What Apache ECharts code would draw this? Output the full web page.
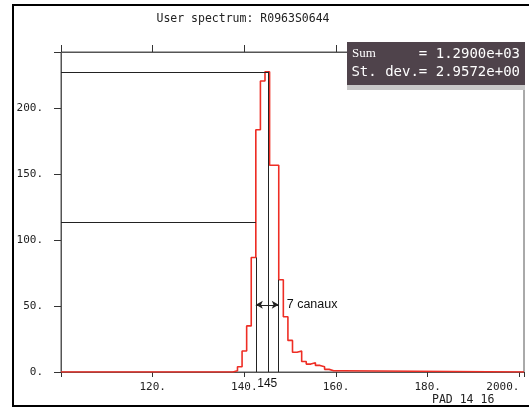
<!DOCTYPE html>
<html>
<head>
<meta charset="utf-8">
<script src="https://cdn.jsdelivr.net/npm/echarts@6/dist/echarts.min.js"></script>
<style>
html,body{margin:0;padding:0;background:#fff;}
#chart{width:529px;height:408px;}
</style>
</head>
<body>
<div id="chart"></div>
<script>
// ---- data ----
const titleText = 'User spectrum: R0963S0644';
const binCenters = [138,139,140,141,142,143,144,145,146,147,148,149,150,151,152,153,154,155,156,157,158,159,160,161];
const counts     = [1,  4,  16, 35, 87, 184,221,228,157,157,70, 42, 24, 15, 16, 8,  6,  7,  5,  4,  2,  1,  1,  1];
const xMin = 100, xMax = 201, xStep = 20;
const yMin = 0, yMax = 243, yStep = 50;
const statNames  = ['Sum', 'St. dev.'];
const statValues = ['1.2900e+03', '2.9572e+00'];
const padText = 'PAD 14 16';
// annotation values
const peakLevel = 228;
const halfLevel = 114;
const fwhmLeft = 142.5, fwhmRight = 147.5;
const peakPos = 145.3;
const arrowLevel = 51;
const annotLabel = '7 canaux';
const peakLabel = '145';

// step-histogram points: left edge of each bin
const histData = [[xMin, 0]];
binCenters.forEach((c, i) => histData.push([c - 0.5, counts[i]]));
histData.push([binCenters[binCenters.length - 1] + 0.5, 0]);
histData.push([xMax, 0]);

const countAt = v => counts[binCenters.indexOf(v)];

const mono = 'DejaVu Sans Mono';
const axisCol = '#555';

const chart = echarts.init(document.getElementById('chart'), null, {renderer: 'canvas'});
chart.setOption({
  animation: false,
  backgroundColor: '#fff',
  title: {
    text: titleText, left: 238, top: 8, textAlign: 'center',
    textStyle: {fontFamily: mono, fontSize: 11.5, fontWeight: 'normal', color: '#222'}
  },
  grid: {left: 61, right: 5, top: 52, bottom: 36, show: true, borderColor: axisCol, borderWidth: 1,
         containLabel: false, outerBoundsMode: 'none'},
  xAxis: [{
    type: 'value', min: xMin, max: xMax, interval: xStep, position: 'bottom',
    axisLine: {show: true, lineStyle: {color: axisCol, width: 1}},
    axisTick: {show: true, length: 5, inside: false, lineStyle: {color: '#333'}},
    splitLine: {show: false},
    axisLabel: {
      margin: 10, fontFamily: mono, fontSize: 11, color: '#222', hideOverlap: false,
      formatter: v => (v === xMin || v === xMax) ? '' : (v === 200 ? '2000.     ' : v + '.')
    }
  }, {
    type: 'value', min: xMin, max: xMax, interval: xStep, position: 'top',
    axisLine: {show: true, lineStyle: {color: axisCol, width: 1}},
    axisTick: {show: true, length: 7, inside: false, lineStyle: {color: '#333'}},
    splitLine: {show: false}, axisLabel: {show: false}
  }],
  yAxis: [{
    type: 'value', min: yMin, max: yMax, interval: yStep,
    axisLine: {show: true, lineStyle: {color: axisCol, width: 1}},
    axisTick: {show: true, length: 7, inside: false, lineStyle: {color: '#333'}},
    splitLine: {show: false},
    axisLabel: {
      margin: 18, fontFamily: mono, fontSize: 11, color: '#222',
      verticalAlign: 'middle', padding: [0, 0, 9, 0],
      formatter: v => v === yMax ? '' : v + '.'
    }
  }],
  series: [{
    type: 'line', step: 'end', data: histData, symbol: 'none', z: 3,
    lineStyle: {color: '#ee2d24', width: 1.6},
    markLine: {
      silent: true, symbol: 'none', label: {show: false},
      lineStyle: {color: '#222', width: 1, type: 'solid'},
      data: [
        [{coord: [xMin, peakLevel]}, {coord: [peakPos, peakLevel]}],
        [{coord: [xMin, halfLevel]}, {coord: [fwhmLeft, halfLevel]}],
        [{coord: [fwhmLeft, 0]}, {coord: [fwhmLeft, countAt(142)]}],
        [{coord: [peakPos, 0]}, {coord: [peakPos, peakLevel]}],
        [{coord: [fwhmRight, 0]}, {coord: [fwhmRight, countAt(148)]}]
      ]
    },
    markPoint: {
      silent: true, symbol: 'circle', symbolSize: 0,
      data: [
        {coord: [fwhmRight, arrowLevel], label: {show: true, formatter: annotLabel, position: 'right', distance: 8,
          fontFamily: 'Liberation Sans', fontSize: 12.5, color: '#111'}},
        {coord: [145, 0], label: {show: true, formatter: peakLabel, position: 'bottom', distance: 6,
          fontFamily: 'Liberation Sans', fontSize: 12, color: '#111'}}
      ]
    }
  }, {
    type: 'line', data: [], symbol: 'none',
    markLine: {
      silent: true, symbol: ['arrow', 'arrow'], symbolSize: [6, 7], label: {show: false},
      lineStyle: {color: '#222', width: 1, type: 'solid'},
      data: [[{coord: [fwhmLeft, arrowLevel]}, {coord: [fwhmRight, arrowLevel]}]]
    }
  }],
  graphic: [
    {type: 'rect', shape: {x: 13, y: 5, width: 540, height: 401}, style: {fill: 'none', stroke: '#000', lineWidth: 2}, z: 100},
    {type: 'rect', shape: {x: 347, y: 44, width: 178, height: 46}, style: {fill: '#c8c8c8'}, z: 50},
    {type: 'rect', shape: {x: 347, y: 42, width: 178, height: 43}, style: {fill: '#4f434b'}, z: 51},
    {type: 'text', x: 352, y: 54, style: {text: statNames[0], font: '13px "Liberation Sans Narrow", "Liberation Serif", serif', fill: '#fff', textVerticalAlign: 'middle'}, z: 52},
    {type: 'text', x: 520, y: 54, style: {text: '= ' + statValues[0], font: '14px "' + mono + '"', fill: '#fff', textAlign: 'right', textVerticalAlign: 'middle'}, z: 52},
    {type: 'text', x: 520, y: 72, style: {text: statNames[1] + '= ' + statValues[1], font: '14px "' + mono + '"', fill: '#fff', textAlign: 'right', textVerticalAlign: 'middle'}, z: 52},
    {type: 'text', x: 432, y: 400, style: {text: padText, font: '11.5px "' + mono + '"', fill: '#222', textVerticalAlign: 'middle'}, z: 52}
  ]
});
</script>
</body>
</html>
